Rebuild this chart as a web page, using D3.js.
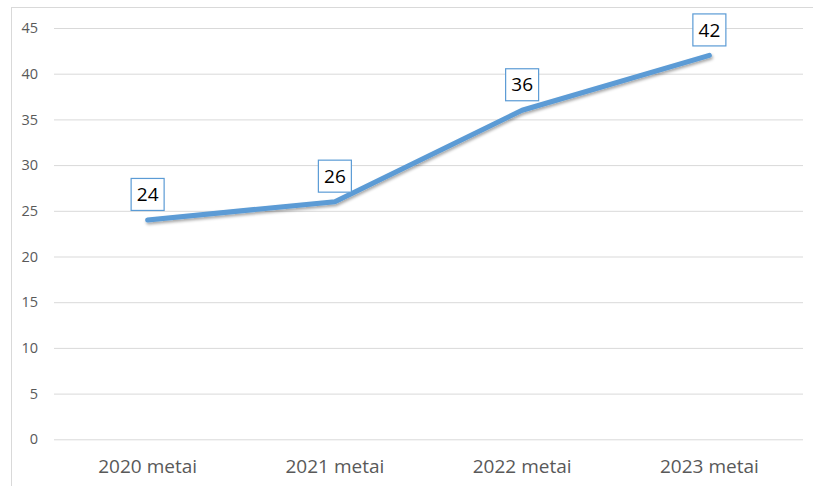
<!DOCTYPE html>
<html><head><meta charset="utf-8">
<script src="https://cdn.jsdelivr.net/npm/d3@7"></script>
<style>html,body{margin:0;padding:0;background:#fff;}svg{display:block;}</style>
</head><body>
<svg id="chart" width="813" height="486"></svg>
<script>
const categories = ["2020 metai", "2021 metai", "2022 metai", "2023 metai"];
const values = [24, 26, 36, 42];
const yTicks = [0, 5, 10, 15, 20, 25, 30, 35, 40, 45];

const svg = d3.select("#chart");
const font = "'Open Sans', 'Noto Sans', sans-serif";

// chart border (cropped on right/bottom)
svg.append("rect").attr("x", 11.5).attr("y", 7.5).attr("width", 820).attr("height", 500)
  .attr("fill", "#fff").attr("stroke", "#d9d9d9").attr("stroke-width", 1);

const x = d3.scaleBand().domain(categories).range([54, 803]);
const y = d3.scaleLinear().domain([0, 45]).range([439.3, 28]);

// gridlines
const yAxis = d3.axisLeft(y).tickValues(yTicks).tickSize(-(803 - 54)).tickPadding(16);
const gy = svg.append("g").attr("transform", "translate(54,0)").call(yAxis);
gy.select(".domain").remove();
gy.selectAll(".tick line").attr("stroke", "#d9d9d9").attr("stroke-width", 1);
gy.selectAll(".tick text").attr("fill", "#595959").style("font-family", font).style("font-size", "14.5px");

// x axis labels
const xAxis = d3.axisBottom(x).tickSize(0).tickPadding(20);
const gx = svg.append("g").attr("transform", "translate(0,439.3)").call(xAxis);
gx.select(".domain").remove();
gx.selectAll(".tick text").attr("fill", "#595959").style("font-family", font).style("font-size", "19px");

// shadow filter
const defs = svg.append("defs");
const f = defs.append("filter").attr("id", "shadow").attr("x", "-10%").attr("y", "-20%").attr("width", "120%").attr("height", "160%");
f.append("feDropShadow").attr("dx", 1).attr("dy", 2).attr("stdDeviation", 1.5)
  .attr("flood-color", "#000").attr("flood-opacity", 0.35);

const cx = d => x(d) + x.bandwidth() / 2;
const data = categories.map((c, i) => ({c, v: values[i]}));

const line = d3.line().x(d => cx(d.c)).y(d => y(d.v));
svg.append("path").datum(data).attr("d", line).attr("fill", "none")
  .attr("stroke", "#5b9bd5").attr("stroke-width", 5).attr("stroke-linecap", "round")
  .attr("stroke-linejoin", "round").attr("filter", "url(#shadow)");

// data labels
const lbl = svg.append("g").selectAll("g").data(data).join("g")
  .attr("transform", d => `translate(${cx(d.c)},${y(d.v) - 25.5})`);
lbl.append("rect").attr("x", -16.5).attr("y", -16).attr("width", 33).attr("height", 32)
  .attr("fill", "#fff").attr("stroke", "#5b9bd5").attr("stroke-width", 1.2);
lbl.append("text").attr("text-anchor", "middle").attr("dy", "0.35em")
  .style("font-family", font).style("font-size", "19px").attr("fill", "#000")
  .text(d => d.v);
</script>
</body></html>
